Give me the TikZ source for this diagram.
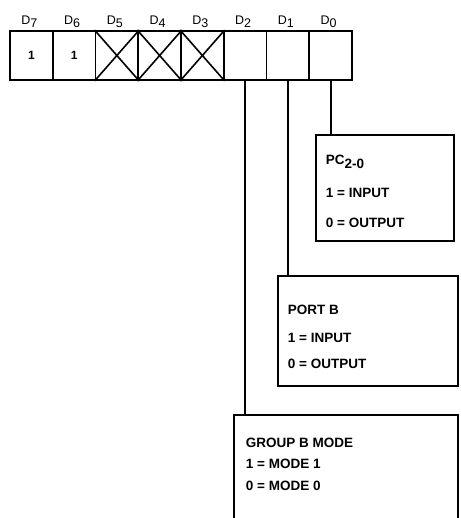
\documentclass[tikz,border=0pt]{standalone}
\usepackage{fontspec}
\setmainfont{Liberation Sans}
\begin{document}
\begin{tikzpicture}[x=1pt,y=-1pt,line width=1.8pt,
  cell/.style={draw,line width=1.8pt,minimum width=42.75pt,minimum height=49pt,inner sep=0pt,
    font=\bfseries\fontsize{12}{14}\selectfont},
  bitlbl/.style={anchor=base,inner sep=0pt,font=\fontsize{12.5}{14}\selectfont},
  infobox/.style={draw,line width=1.8pt,inner sep=0pt,anchor=north west},
  boxtxt/.style={anchor=base west,inner sep=0pt,font=\bfseries\fontsize{13.5}{15}\selectfont},
  wire/.style={line width=1.8pt}]
\useasboundingbox (0,0) rectangle (460,518);
\clip (0,0) rectangle (460,518);
\fill[white] (0,0) rectangle (460,518);
% register cells
\foreach \i/\n/\t in {0/7/1,1/6/1,2/5/,3/4/,4/3/,5/2/,6/1/,7/0/}{
  \node[cell] (c\n) at ({10+42.75*(\i+0.5)},55.5) {\t};
  \node[bitlbl] (l\n) at ({8+42.75*(\i+0.5)},25) {D\raisebox{-3pt}{\n}};
}
\foreach \n in {5,4,3}{
  \draw[line width=1.6pt] (c\n.north west) -- (c\n.south east) (c\n.north east) -- (c\n.south west);
}
% info boxes
\node[infobox,minimum width=138pt,minimum height=106pt] (pc) at (315,134) {};
\node[infobox,minimum width=180pt,minimum height=110pt] (pb) at (277,275) {};
\node[infobox,minimum width=224pt,minimum height=130pt] (gb) at (233,414) {};
% texts
\node[boxtxt] (pc1) at (325,165) {PC\raisebox{-4pt}{2-0}};
\node[boxtxt] (pc2) at (325,198) {1 = INPUT};
\node[boxtxt] (pc3) at (325,228) {0 = OUTPUT};
\node[boxtxt] (pb1) at (287,314) {PORT B};
\node[boxtxt] (pb2) at (287,342) {1 = INPUT};
\node[boxtxt] (pb3) at (287,368) {0 = OUTPUT};
\node[boxtxt] (gb1) at (245,447) {GROUP B MODE};
\node[boxtxt] (gb2) at (245,468) {1 = MODE 1};
\node[boxtxt] (gb3) at (245,490) {0 = MODE 0};
% connectors
\draw[wire] (c0.south) -- (pc.north -| c0.south);
\draw[wire] (c1.south) -- (pb.north -| c1.south);
\draw[wire] (c2.south) -- (gb.north -| c2.south);
\end{tikzpicture}
\end{document}
